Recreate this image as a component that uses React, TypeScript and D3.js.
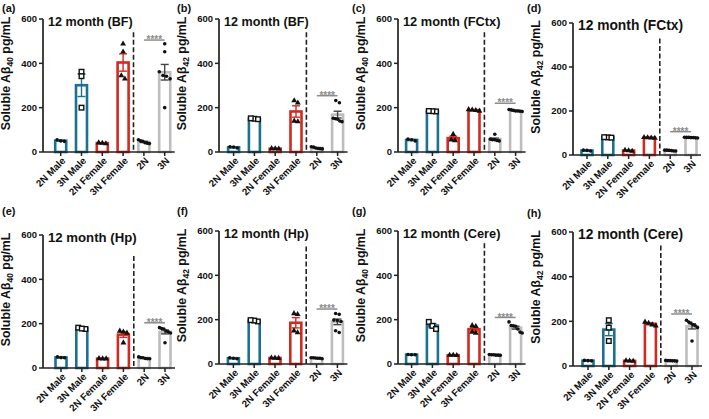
import React from 'react';
import * as d3 from 'd3';

// ---------- data ----------
const categories = ['2N Male', '3N Male', '2N Female', '3N Female', '2N', '3N'];
const yTicks = [0, 200, 400, 600];
const panelLetters = ['(a)', '(b)', '(c)', '(d)', '(e)', '(f)', '(g)', '(h)'];
const regions = ['BF', 'BF', 'FCtx', 'FCtx', 'Hp', 'Hp', 'Cere', 'Cere'];
const peptides = ['40', '42', '40', '42', '40', '42', '40', '42'];

// individual animals per group, per panel (pg/mL)
const male2N = [
  [55, 48, 50], [24, 18, 22], [50, 55, 58], [22, 18, 21],
  [46, 50, 47], [24, 28, 26], [42, 43, 42], [24, 25, 23],
];
const male3N = [
  [362, 342, 200], [150, 148, 152], [183, 184, 185], [80, 79, 81],
  [182, 176, 178], [192, 196, 198], [190, 172, 158], [205, 172, 112],
];
const female2N = [
  [42, 40, 38], [16, 14, 15], [80, 55, 52], [22, 18, 20],
  [43, 42, 42], [27, 28, 26], [40, 40, 39], [23, 24, 22],
];
const female3N = [
  [488, 452, 345, 330], [232, 222, 140, 137], [185, 190, 188, 192], [78, 80, 79, 77],
  [167, 163, 158, 114], [228, 224, 150, 142], [174, 170, 144, 140], [197, 192, 185, 180],
];
// significance bracket level and dashed divider top (in data units)
const sigLevel = [505, 254, 220, 106, 204, 248, 210, 233];
const dashTop = [540, 540, 540, 530, 505, 530, 545, 540];

// ---------- layout ----------
const layout = [
  { ax: 43, top: 19, base: 152, off: 17.7, lx: 2, ly: 12, tfs: 12.6 },
  { ax: 219, top: 19, base: 152, off: 14.6, lx: 177, ly: 12, tfs: 12.6 },
  { ax: 398, top: 19, base: 152, off: 13.6, lx: 352, ly: 12, tfs: 12.8 },
  { ax: 573, top: 23, base: 155, off: 14, lx: 527, ly: 12, tfs: 13.8 },
  { ax: 43, top: 235, base: 368, off: 18, lx: 2, ly: 215, tfs: 13.2 },
  { ax: 219, top: 231, base: 364, off: 14.4, lx: 177, ly: 215, tfs: 12.6 },
  { ax: 398, top: 231, base: 364, off: 13.6, lx: 352, ly: 215, tfs: 12.8 },
  { ax: 573, top: 232, base: 366, off: 15, lx: 527, ly: 217, tfs: 13.8 },
];

const TEAL = '#1a7290';
const RED = '#d22a1f';
const GRAY = '#bdbdbd';
const FONT = 'Liberation Sans, Arial, Helvetica, sans-serif';
const STEP = 20.8;

const barColors = [TEAL, TEAL, RED, RED, GRAY, GRAY];
const errColors = [TEAL, TEAL, RED, RED, '#444', '#444'];
const shapes = ['circle', 'square', 'triangle', 'triangle', 'circle', 'circle'];

function spread(vals: number[], y: (v: number) => number) {
  // cluster points that are close in pixel space and spread them horizontally
  const items = vals.map((v, i) => ({ v, i, py: y(v), dx: 0 }));
  const sorted = [...items].sort((a, b) => a.py - b.py);
  const clusters: typeof items[] = [];
  sorted.forEach((it) => {
    const last = clusters[clusters.length - 1];
    if (last && it.py - last[last.length - 1].py < 4) last.push(it);
    else clusters.push([it]);
  });
  clusters.forEach((c) => {
    const gap = c.length > 4 ? 2.2 : 3.6;
    c.forEach((it, k) => {
      it.dx = (k - (c.length - 1) / 2) * gap;
    });
  });
  return items;
}

function Marker({ shape, x, y }: { shape: string; x: number; y: number }) {
  if (shape === 'square')
    return <rect x={x - 2.3} y={y - 2.3} width={4.6} height={4.6} fill="#fff" stroke="#111" strokeWidth={1.4} />;
  if (shape === 'triangle') {
    const p = d3.symbol().type(d3.symbolTriangle).size(15)();
    return <path d={p as string} transform={`translate(${x},${y})`} fill="#111" />;
  }
  return <circle cx={x} cy={y} r={1.8} fill="#111" />;
}

function Panel({ i }: { i: number }) {
  const L = layout[i];
  const y = d3.scaleLinear().domain([0, 600]).range([L.base, L.top]);
  const x = d3
    .scalePoint<string>()
    .domain(categories)
    .range([L.ax + L.off, L.ax + L.off + 5 * STEP]);
  const groups = [
    male2N[i],
    male3N[i],
    female2N[i],
    female3N[i],
    male2N[i].concat(female2N[i]),
    male3N[i].concat(female3N[i]),
  ];
  const barW = 11;
  const xEnd = (x('3N') as number) + 10;
  const dashX = ((x('3N Female') as number) + (x('2N') as number)) / 2;
  const sigY = y(sigLevel[i]);
  const mid = (L.top + L.base) / 2 - 12;

  return (
    <g fontFamily={FONT}>
      <text x={L.lx} y={L.ly} fontSize={11} fontWeight="bold" fill="#111">
        {panelLetters[i]}
      </text>
      <text x={L.ax + 5} y={L.top + 7} fontSize={L.tfs} fontWeight="bold" fill="#111">
        12 month ({regions[i]})
      </text>
      <text
        transform={`translate(${L.ax - 33},${mid}) rotate(-90)`}
        textAnchor="middle"
        fontSize={12.3}
        fontWeight="bold"
        fill="#111"
      >
        Soluble Aβ
        <tspan fontSize={8.5} dy={3}>
          {peptides[i]}
        </tspan>
        <tspan dy={-3}> pg/mL</tspan>
      </text>

      {/* bars */}
      {groups.map((vals, g) => {
        const m = d3.mean(vals) as number;
        const cx = x(categories[g]) as number;
        return (
          <rect
            key={'b' + g}
            x={cx - barW / 2}
            y={y(m)}
            width={barW}
            height={L.base - y(m)}
            fill="#fff"
            stroke={barColors[g]}
            strokeWidth={2.6}
          />
        );
      })}

      {/* error bars */}
      {groups.map((vals, g) => {
        const m = d3.mean(vals) as number;
        const sem = (d3.deviation(vals) as number) / Math.sqrt(vals.length);
        const cx = x(categories[g]) as number;
        const y1 = y(m + sem);
        const y2 = y(Math.max(0, m - sem));
        return (
          <g key={'e' + g} stroke={errColors[g]} strokeWidth={1.4}>
            <line x1={cx} x2={cx} y1={y1} y2={y2} />
            <line x1={cx - 4} x2={cx + 4} y1={y1} y2={y1} />
            <line x1={cx - 4} x2={cx + 4} y1={y2} y2={y2} />
          </g>
        );
      })}

      {/* points */}
      {groups.map((vals, g) => {
        const cx = x(categories[g]) as number;
        return spread(vals, y).map((p) => (
          <Marker key={'p' + g + '-' + p.i} shape={shapes[g]} x={cx + p.dx} y={p.py} />
        ));
      })}

      {/* dashed divider */}
      <line
        x1={dashX}
        x2={dashX}
        y1={y(dashTop[i])}
        y2={L.base}
        stroke="#222"
        strokeWidth={1.6}
        strokeDasharray="5,2.5"
      />

      {/* significance */}
      <line x1={x('2N')} x2={x('3N')} y1={sigY} y2={sigY} stroke="#8c8c8c" strokeWidth={1.5} />
      <text
        x={((x('2N') as number) + (x('3N') as number)) / 2}
        y={sigY + 3.2}
        textAnchor="middle"
        fontSize={10}
        fontWeight="bold"
        fill="#8c8c8c"
      >
        ****
      </text>

      {/* axes */}
      <line x1={L.ax} x2={L.ax} y1={L.top} y2={L.base} stroke="#222" strokeWidth={1.7} />
      <line x1={L.ax} x2={xEnd} y1={L.base} y2={L.base} stroke="#222" strokeWidth={1.7} />
      {yTicks.map((t) => (
        <g key={'yt' + t}>
          <line x1={L.ax - 4} x2={L.ax} y1={y(t)} y2={y(t)} stroke="#222" strokeWidth={1.5} />
          <text
            x={L.ax - 6}
            y={y(t)}
            dy="0.36em"
            textAnchor="end"
            fontSize={9.5}
            fontWeight="bold"
            fill="#111"
          >
            {t}
          </text>
        </g>
      ))}
      {categories.map((c) => {
        const cx = x(c) as number;
        return (
          <g key={'xt' + c}>
            <line x1={cx} x2={cx} y1={L.base} y2={L.base + 4} stroke="#222" strokeWidth={1.5} />
            <text
              transform={`translate(${cx + 3},${L.base + 7}) rotate(-45)`}
              textAnchor="end"
              dy="0.35em"
              fontSize={9.8}
              fontWeight="bold"
              fill="#111"
            >
              {c}
            </text>
          </g>
        );
      })}
    </g>
  );
}

export default function App() {
  return (
    <svg
      width={709}
      height={419}
      viewBox="0 0 709 419"
      style={{ position: 'absolute', left: 0, top: 0, background: '#fff' }}
    >
      <rect width={709} height={419} fill="#fff" />
      {layout.map((_, i) => (
        <Panel key={i} i={i} />
      ))}
    </svg>
  );
}
